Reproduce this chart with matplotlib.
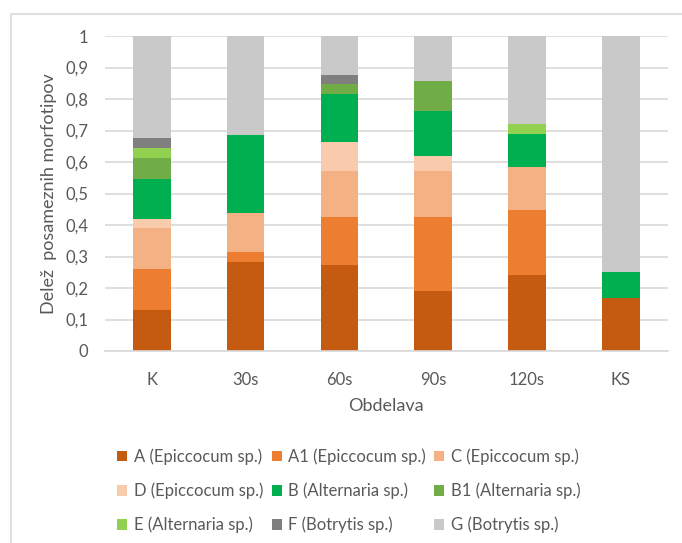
import matplotlib
matplotlib.use("Agg")
import matplotlib.pyplot as plt
from matplotlib.patches import Rectangle
import numpy as np

plt.rcParams['font.family'] = ['Lato', 'DejaVu Sans']

categories = ["K", "30s", "60s", "90s", "120s", "KS"]

series_names = [
    "A (Epiccocum sp.)", "A1 (Epiccocum sp.)", "C (Epiccocum sp.)",
    "D (Epiccocum sp.)", "B (Alternaria sp.)", "B1 (Alternaria sp.)",
    "E (Alternaria sp.)", "F (Botrytis sp.)", "G (Botrytis sp.)",
]

A  = [0.130, 0.282, 0.273, 0.190, 0.242, 0.167]
A1 = [0.129, 0.031, 0.151, 0.237, 0.207, 0.000]
C  = [0.130, 0.124, 0.149, 0.144, 0.136, 0.000]
D  = [0.029, 0.000, 0.091, 0.047, 0.000, 0.000]
B  = [0.128, 0.250, 0.153, 0.144, 0.105, 0.083]
B1 = [0.067, 0.000, 0.031, 0.094, 0.000, 0.000]
E  = [0.031, 0.000, 0.000, 0.000, 0.032, 0.000]
F  = [0.033, 0.000, 0.029, 0.000, 0.000, 0.000]
G  = [0.323, 0.313, 0.123, 0.144, 0.278, 0.750]

series = [A, A1, C, D, B, B1, E, F, G]
colors = ["#C55A11", "#ED7D31", "#F4B183", "#F8CBAD", "#00B050",
          "#70AD47", "#92D050", "#7F7F7F", "#C9C9C9"]

yticks = [0, 0.1, 0.2, 0.3, 0.4, 0.5, 0.6, 0.7, 0.8, 0.9, 1.0]
ytick_labels = ["0", "0,1", "0,2", "0,3", "0,4", "0,5", "0,6", "0,7", "0,8", "0,9", "1"]

text_color = "#595959"
grid_color = "#D9D9D9"

fig = plt.figure(figsize=(6.82, 5.43), dpi=100)
ax = fig.add_axes([0.154, 0.3536, 0.825, 0.580])

x = np.arange(len(categories))
bottom = np.zeros(len(categories))
handles = []
for name, vals, col in zip(series_names, series, colors):
    vals = np.array(vals)
    h = ax.bar(x, vals, width=0.4, bottom=bottom, color=col, label=name,
               zorder=3, linewidth=0)
    handles.append(h)
    bottom += vals

ax.set_xlim(-0.5, len(categories) - 0.5)
ax.set_ylim(0, 1)
ax.set_yticks(yticks)
ax.set_yticklabels(ytick_labels)
ax.set_xticks(x)
ax.set_xticklabels(categories)
ax.tick_params(axis='both', length=0, colors=text_color, labelsize=12)
ax.tick_params(axis='y', pad=12)
ax.tick_params(axis='x', pad=15)
ax.yaxis.grid(True, color=grid_color, linewidth=1.2, zorder=0)
ax.set_axisbelow(True)
for s in ["top", "left", "right"]:
    ax.spines[s].set_visible(False)
ax.spines["bottom"].set_color(grid_color)
ax.spines["bottom"].set_linewidth(1.2)
ax.spines["bottom"].set_zorder(4)

ax.set_ylabel("Delež  posameznih morfotipov", color=text_color, fontsize=13)
ax.yaxis.set_label_coords(-0.086, 0.5)
ax.set_xlabel("Obdelava", color=text_color, fontsize=13, labelpad=7)

# legend: three columns, filled column by column
order = [0, 3, 6, 1, 4, 7, 2, 5, 8]
leg = fig.legend([handles[i] for i in order], [series_names[i] for i in order],
                 ncol=3, loc="upper left", bbox_to_anchor=(0.172, 0.174),
                 frameon=False, fontsize=12, handlelength=0.6, handleheight=0.6,
                 handletextpad=0.4, columnspacing=0.5, labelspacing=1.05,
                 borderaxespad=0, borderpad=0)
for t in leg.get_texts():
    t.set_color(text_color)

# chart frame
fig.patches.append(Rectangle((11 / 682, -0.1), 1.2, 1.1 - 14 / 543,
                             transform=fig.transFigure, fill=False,
                             edgecolor=grid_color, linewidth=1.2))

fig.savefig("out.png", dpi=100)
